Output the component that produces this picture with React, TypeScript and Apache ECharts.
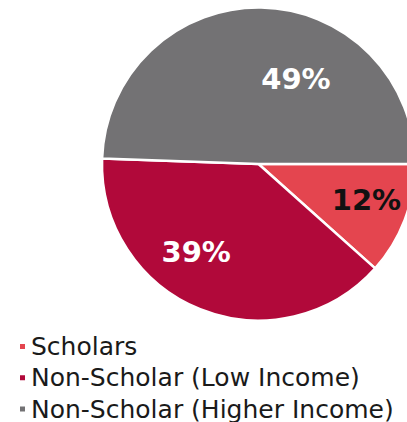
import React, { useEffect, useRef } from "react";
import * as echarts from "echarts";

const categories = ["Scholars", "Non-Scholar (Low Income)", "Non-Scholar (Higher Income)"];
const values = [11.6, 38.9, 49.4];
const colors = ["#e4454f", "#b1093a", "#737274"];
const labelColors = ["#111111", "#ffffff", "#ffffff"];
const labelOffsets: [number, number][] = [
  [32, 7],
  [-32, 13],
  [36, -3.5],
];

export default function App() {
  const ref = useRef<HTMLDivElement>(null);
  useEffect(() => {
    if (!ref.current) return;
    const chart = echarts.init(ref.current, undefined, { renderer: "svg" });
    chart.setOption({
      animation: false,
      backgroundColor: "#ffffff",
      legend: {
        orient: "vertical",
        left: 13,
        top: 329,
        height: 100,
        icon: "rect",
        itemWidth: 7,
        itemHeight: 7,
        itemGap: 6.3,
        itemTextGap: 8,
        selectedMode: false,
        textStyle: {
          fontFamily: "DejaVu Sans",
          fontSize: 25,
          lineHeight: 25,
          color: "#1a1a1a",
        },
        data: categories,
      },
      series: [
        {
          type: "pie",
          center: [258.5, 164],
          radius: [0, 156.5],
          startAngle: 0,
          clockwise: true,
          itemStyle: { borderColor: "#ffffff", borderWidth: 2.5 },
          label: {
            show: true,
            position: "inside",
            formatter: (p: any) => `${Math.round(p.value)}%`,
            fontFamily: "DejaVu Sans",
            fontWeight: "bold",
            fontSize: 29,
          },
          labelLine: { show: false },
          labelLayout: (params: any) => {
            const o = labelOffsets[params.dataIndex] || [0, 0];
            return { dx: o[0], dy: o[1] };
          },
          emphasis: { disabled: true },
          data: categories.map((name, i) => ({
            name,
            value: values[i],
            itemStyle: { color: colors[i] },
            label: { color: labelColors[i] },
          })),
        },
      ],
    });
    return () => chart.dispose();
  }, []);
  return (
    <div
      ref={ref}
      style={{ position: "fixed", left: 0, top: 0, width: 407, height: 422 }}
    />
  );
}
